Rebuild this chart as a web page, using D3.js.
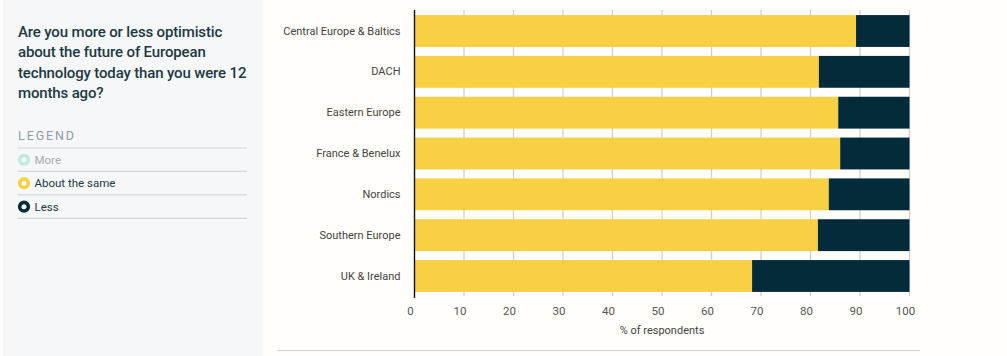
<!DOCTYPE html>
<html><head><meta charset="utf-8">
<script src="https://cdn.jsdelivr.net/npm/d3@7"></script>
<style>
body{margin:0;background:#fffefa;}
svg{display:block;font-family:Roboto,"Noto Sans",sans-serif;}
</style>
</head><body>
<svg id="chart" width="1007" height="356"></svg>
<script>
const categories = ["Central Europe & Baltics","DACH","Eastern Europe","France & Benelux","Nordics","Southern Europe","UK & Ireland"];
const sameValues = [89.2, 81.7, 85.6, 86.0, 83.7, 81.5, 68.2];
const lessValues = [10.8, 18.3, 14.4, 14.0, 16.3, 18.5, 31.8];
const xTicks = [0,10,20,30,40,50,60,70,80,90,100];
const legendLabels = ["More","About the same","Less"];
const legendColors = ["#bfe9e3","#f8d043","#032b3a"];
const legendActive = [false,true,true];
const titleLines = ["Are you more or less optimistic","about the future of European","technology today than you were 12","months ago?"];
const xTitle = "% of respondents";

const svg = d3.select("#chart");

// left panel
svg.append("rect").attr("x",3).attr("y",0).attr("width",259).attr("height",356).attr("fill","#f5f7f8");
const title = svg.append("text").attr("x",18).attr("y",37).attr("fill","#1d3944")
  .style("font-size","15px").style("font-weight",500).style("letter-spacing","-0.15px");
titleLines.forEach((l,i)=>title.append("tspan").attr("x",18).attr("y",37+i*20.4).text(l));

svg.append("text").attr("x",18).attr("y",140).text("LEGEND")
  .attr("fill","#8e9da4").style("font-size","12.5px").style("letter-spacing","1.9px");

const legY = d3.scaleBand().domain(legendLabels).range([148,218.4]);
svg.selectAll("line.sep").data([148].concat(legendLabels.map(d=>legY(d)+legY.bandwidth())))
  .join("line").attr("class","sep").attr("x1",18).attr("x2",247).attr("y1",d=>d).attr("y2",d=>d)
  .attr("stroke","#d3d7d9").attr("stroke-width",1.2);
const leg = svg.selectAll("g.leg").data(legendLabels).join("g").attr("class","leg")
  .attr("transform",d=>`translate(0,${legY(d)+legY.bandwidth()/2})`);
leg.append("circle").attr("cx",24).attr("cy",0).attr("r",4.3).attr("fill","#fff")
  .attr("stroke",(d,i)=>legendColors[i]).attr("stroke-width",3.6);
leg.append("text").attr("x",34.5).attr("y",4).text(d=>d)
  .attr("fill",(d,i)=>legendActive[i]?"#1d3944":"#a3aeb3").style("font-size","11.5px");

// chart
const x = d3.scaleLinear().domain([0,100]).range([414.5,909.5]);
const y = d3.scaleBand().domain(categories).range([11,296]).paddingInner(0.22).paddingOuter(0.1);

svg.append("g").selectAll("line").data(xTicks.slice(1)).join("line")
  .attr("x1",d=>x(d)).attr("x2",d=>x(d)).attr("y1",10).attr("y2",296)
  .attr("stroke","#cfcfcf").attr("stroke-width",1.3);

const rows = categories.map((c,i)=>({cat:c, same:sameValues[i], less:lessValues[i]}));
const stack = d3.stack().keys(["same","less"])(rows);
const colors = {same:legendColors[1], less:legendColors[2]};
svg.append("g").selectAll("g").data(stack).join("g").attr("fill",d=>colors[d.key])
  .selectAll("rect").data(d=>d).join("rect")
  .attr("x",d=>x(d[0])).attr("width",d=>x(d[1])-x(d[0]))
  .attr("y",d=>y(d.data.cat)).attr("height",y.bandwidth());

// y axis
const yAxis = svg.append("g").attr("transform",`translate(${x(0)},0)`)
  .call(d3.axisLeft(y).tickSize(0).tickPadding(14));
yAxis.select(".domain").attr("stroke","#111").attr("stroke-width",1.4).attr("d","M0,10V298");
yAxis.selectAll("text").attr("fill","#444").style("font-size","11px").style("font-family","Roboto,sans-serif");

// x axis
const xAxis = svg.append("g").attr("transform","translate(0,298)")
  .call(d3.axisBottom(x).tickValues(xTicks).tickSize(0).tickPadding(8.5));
xAxis.select(".domain").remove();
xAxis.selectAll("text").attr("fill","#555").attr("dx",-4.5).style("font-size","11.5px").style("font-family","Roboto,sans-serif");

svg.append("text").attr("x",(x(0)+x(100))/2).attr("y",334.3).attr("text-anchor","middle")
  .text(xTitle).attr("fill","#444").style("font-size","11px");

svg.append("line").attr("x1",277).attr("x2",920).attr("y1",350.5).attr("y2",350.5)
  .attr("stroke","#cfcfcf").attr("stroke-width",1.2);
</script>
</body></html>
